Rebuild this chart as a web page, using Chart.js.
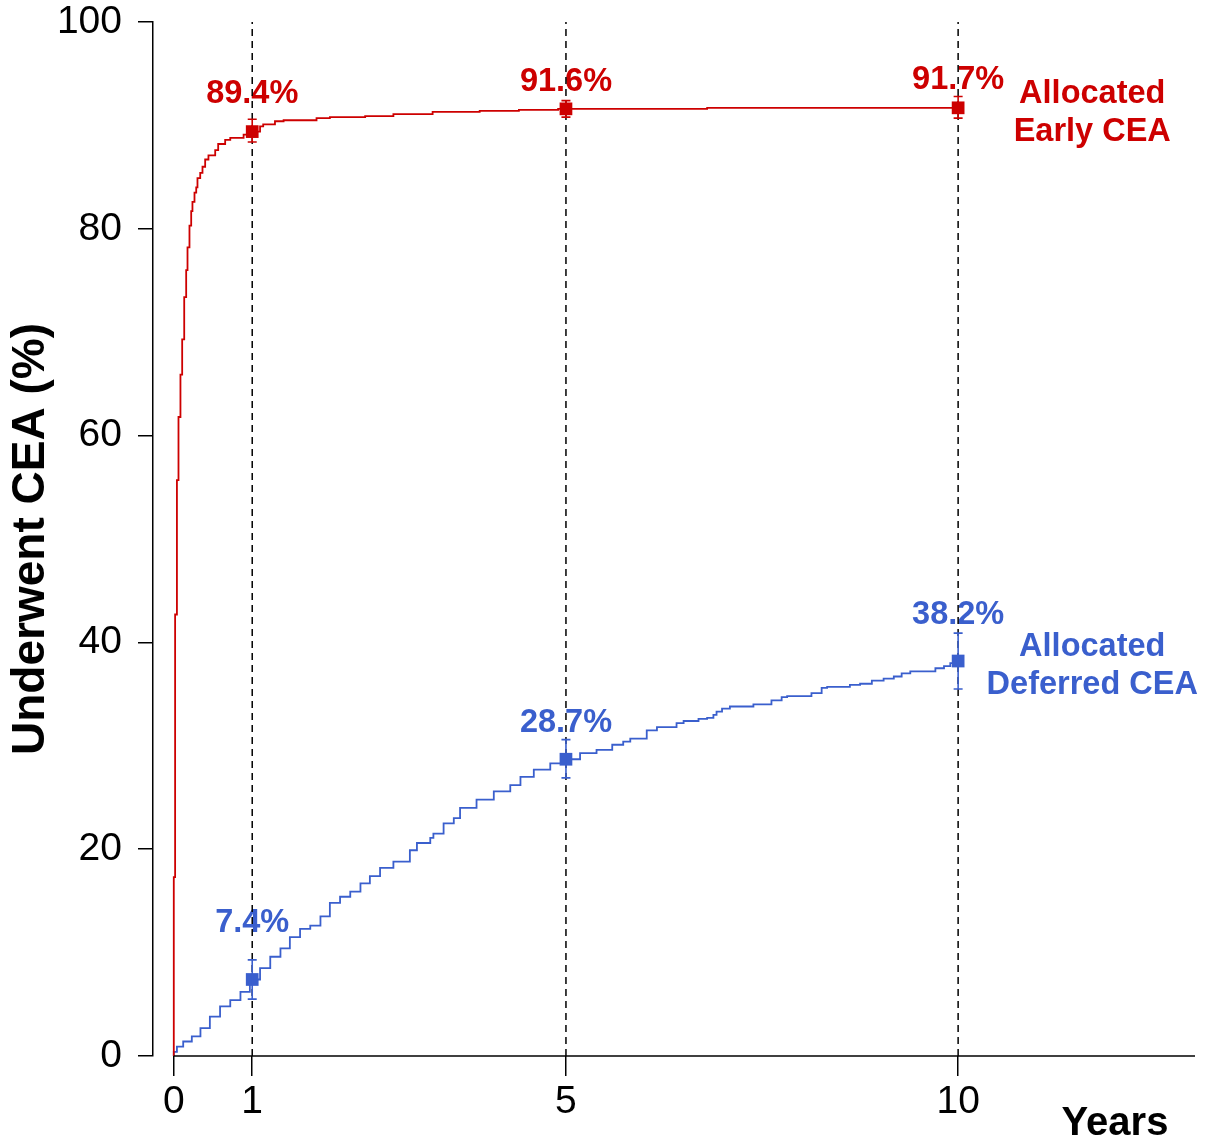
<!DOCTYPE html>
<html>
<head>
<meta charset="utf-8">
<script src="https://cdn.jsdelivr.net/npm/chart.js@4.4.1/dist/chart.umd.min.js"></script>
<style>
  body { margin: 0; background: #fff; }
  #wrap { width: 1211px; height: 1140px; }
</style>
</head>
<body>
<div id="wrap"><canvas id="kmChart" width="1211" height="1140"></canvas></div>
<script>
// cumulative % who underwent CEA, step curves (time in years)
const earlyYears = [0, 0, 0.017, 0.04, 0.06, 0.085, 0.107, 0.133, 0.158, 0.175, 0.2, 0.222, 0.238, 0.264,
  0.286, 0.302, 0.337, 0.366, 0.4, 0.442, 0.528, 0.566, 0.655, 0.72, 0.89, 1.0, 1.1, 1.14, 1.29, 1.4,
  1.82, 1.99, 2.44, 2.8, 3.3, 3.9, 4.4, 4.9, 6.8, 10];
const earlyPct = [0, 17.3, 42.7, 55.7, 61.8, 65.9, 69.3, 73.4, 76.0, 78.2, 80.3, 81.7, 82.6, 83.5,
  84.0, 84.9, 85.4, 86.0, 86.7, 87.1, 87.6, 88.2, 88.6, 88.8, 89.1, 89.4, 89.9, 90.1, 90.4, 90.5,
  90.7, 90.8, 90.9, 91.1, 91.3, 91.4, 91.5, 91.6, 91.7, 91.7];

const deferredYears = [0, 0, 0.04, 0.12, 0.23, 0.34, 0.46, 0.59, 0.72, 0.85, 0.97, 1.0, 1.1, 1.23, 1.36,
  1.48, 1.61, 1.74, 1.87, 1.99, 2.12, 2.25, 2.38, 2.5, 2.63, 2.8, 3.01, 3.1, 3.27, 3.31, 3.44, 3.57,
  3.65, 3.86, 4.08, 4.29, 4.42, 4.59, 4.8, 5.0, 5.18, 5.39, 5.59, 5.73, 5.82, 6.03, 6.16, 6.41, 6.5,
  6.69, 6.8, 6.88, 6.92, 6.99, 7.09, 7.39, 7.62, 7.75, 7.82, 8.13, 8.26, 8.33, 8.62, 8.75, 8.9,
  9.05, 9.18, 9.28, 9.39, 9.71, 9.82, 9.9, 10];
const deferredPct = [0, 0.4, 0.9, 1.4, 1.9, 2.7, 3.8, 4.8, 5.4, 6.2, 7.0, 7.4, 8.5, 9.6, 10.4,
  11.5, 12.3, 12.6, 13.5, 14.8, 15.4, 15.9, 16.7, 17.4, 18.2, 18.8, 19.9, 20.6, 21.1, 21.5, 22.5, 23.0,
  24.0, 24.8, 25.6, 26.2, 27.0, 27.7, 28.3, 28.7, 29.3, 29.6, 30.1, 30.4, 30.7, 31.5, 31.8, 32.2, 32.4,
  32.6, 32.7, 33.0, 33.3, 33.6, 33.8, 34.0, 34.4, 34.7, 34.8, 35.1, 35.6, 35.7, 35.9, 36.0, 36.3,
  36.5, 36.7, 37.0, 37.2, 37.5, 37.7, 38.0, 38.2];

// estimates at 1, 5 and 10 years with 95% CI
const markYears = [1, 5, 10];
const earlyAt = [89.4, 91.6, 91.7];
const earlyLo = [88.4, 90.8, 90.7];
const earlyHi = [90.6, 92.4, 92.8];
const deferredAt = [7.4, 28.7, 38.2];
const deferredLo = [5.5, 26.9, 35.5];
const deferredHi = [9.3, 30.6, 40.9];

const xTicks = [0, 1, 5, 10];
const yTicks = [0, 20, 40, 60, 80, 100];

const RED = '#CD0000';
const BLUE = '#3A5FCD';
const FONT = "'Liberation Sans', Arial, sans-serif";

const toPts = (xs, ys) => xs.map((x, i) => ({x: x, y: ys[i]}));

const groups = [
  {at: earlyAt, lo: earlyLo, hi: earlyHi, color: RED, lift: [3.6, 2.6, 2.7],
   name: ['Allocated', 'Early CEA'], nameX: 11.71, nameY: [93.0, 89.4]},
  {at: deferredAt, lo: deferredLo, hi: deferredHi, color: BLUE, lift: [5.5, 3.5, 4.4],
   name: ['Allocated', 'Deferred CEA'], nameX: 11.71, nameY: [39.6, 35.9]}
];

const annotate = {
  id: 'annotate',
  beforeDatasetsDraw(chart) {
    const {ctx, scales: {x, y}} = chart;
    ctx.save();
    ctx.font = `bold 32.5px ${FONT}`;
    ctx.textAlign = 'center';
    ctx.textBaseline = 'middle';
    groups.forEach(g => {
      ctx.fillStyle = g.color;
      markYears.forEach((yr, i) => {
        ctx.fillText(g.at[i].toFixed(1) + '%', x.getPixelForValue(yr), y.getPixelForValue(g.at[i] + g.lift[i]));
      });
      g.name.forEach((line, i) => {
        ctx.fillText(line, x.getPixelForValue(g.nameX), y.getPixelForValue(g.nameY[i]));
      });
    });
    ctx.restore();
  },
  afterDatasetsDraw(chart) {
    const {ctx, scales: {x, y}} = chart;
    ctx.save();
    ctx.lineWidth = 1.6;
    groups.forEach(g => {
      ctx.strokeStyle = g.color;
      markYears.forEach((yr, i) => {
        const px = x.getPixelForValue(yr);
        const top = y.getPixelForValue(g.hi[i]);
        const bot = y.getPixelForValue(g.lo[i]);
        ctx.beginPath();
        ctx.moveTo(px, top); ctx.lineTo(px, bot);
        ctx.moveTo(px - 4.5, top); ctx.lineTo(px + 4.5, top);
        ctx.moveTo(px - 4.5, bot); ctx.lineTo(px + 4.5, bot);
        ctx.stroke();
      });
    });
    ctx.restore();
  },
  afterDraw(chart) {
    const {ctx, chartArea, scales: {x}} = chart;
    ctx.save();
    // x axis line only starts at time 0
    ctx.strokeStyle = '#000';
    ctx.lineWidth = 1.5;
    ctx.beginPath();
    ctx.moveTo(x.getPixelForValue(0), chartArea.bottom);
    ctx.lineTo(chartArea.right, chartArea.bottom);
    ctx.stroke();
    ctx.fillStyle = '#000';
    ctx.font = `bold 40px ${FONT}`;
    ctx.textAlign = 'center';
    ctx.textBaseline = 'middle';
    ctx.fillText('Years', chartArea.right - 80, chart.height - 16);
    ctx.restore();
  }
};

const dashedLines = markYears.map(yr => ({
  data: [{x: yr, y: 0}, {x: yr, y: 100}],
  borderColor: '#000',
  borderWidth: 1.5,
  borderDash: [7, 5],
  pointRadius: 0,
  order: 3
}));

const ctx = document.getElementById('kmChart');
const kmChart = new Chart(ctx, {
  type: 'line',
  data: {
    datasets: [
      {data: toPts(earlyYears, earlyPct), borderColor: RED, borderWidth: 1.8, pointRadius: 0, stepped: true, order: 1},
      {data: toPts(deferredYears, deferredPct), borderColor: BLUE, borderWidth: 1.8, pointRadius: 0, stepped: true, order: 1},
      {data: toPts(markYears, earlyAt), showLine: false, pointStyle: 'rect', pointRadius: 9,
        backgroundColor: RED, borderColor: RED, borderWidth: 0, order: 0},
      {data: toPts(markYears, deferredAt), showLine: false, pointStyle: 'rect', pointRadius: 9,
        backgroundColor: BLUE, borderColor: BLUE, borderWidth: 0, order: 0},
      ...dashedLines
    ]
  },
  options: {
    responsive: false,
    animation: false,
    layout: {padding: {top: 22, right: 16, left: 0, bottom: 0}},
    plugins: {legend: {display: false}, tooltip: {enabled: false}},
    scales: {
      x: {
        type: 'linear',
        min: -0.265,
        max: 13.02,
        afterBuildTicks: s => { s.ticks = xTicks.map(v => ({value: v})); },
        afterFit: s => { s.height = 84; s.paddingLeft = 0; s.paddingRight = 0; },
        grid: {drawOnChartArea: false, drawTicks: true, tickLength: 20, color: '#000', lineWidth: 1.5},
        border: {display: false},
        ticks: {color: '#000', font: {family: FONT, size: 39}, padding: 3, maxRotation: 0, autoSkip: false}
      },
      y: {
        min: 0,
        max: 100,
        afterBuildTicks: s => { s.ticks = yTicks.map(v => ({value: v})); },
        afterFit: s => { s.width = 153; s.paddingTop = 0; s.paddingBottom = 0; },
        grid: {drawOnChartArea: false, drawTicks: true, tickLength: 15, color: '#000', lineWidth: 1.5},
        border: {display: true, color: '#000', width: 1.5},
        ticks: {color: '#000', font: {family: FONT, size: 39}, padding: 16},
        title: {display: true, text: 'Underwent CEA (%)', color: '#000',
          font: {family: FONT, size: 46, weight: 'bold'}, padding: {top: 4, bottom: 0}}
      }
    }
  },
  plugins: [annotate]
});
</script>
</body>
</html>
